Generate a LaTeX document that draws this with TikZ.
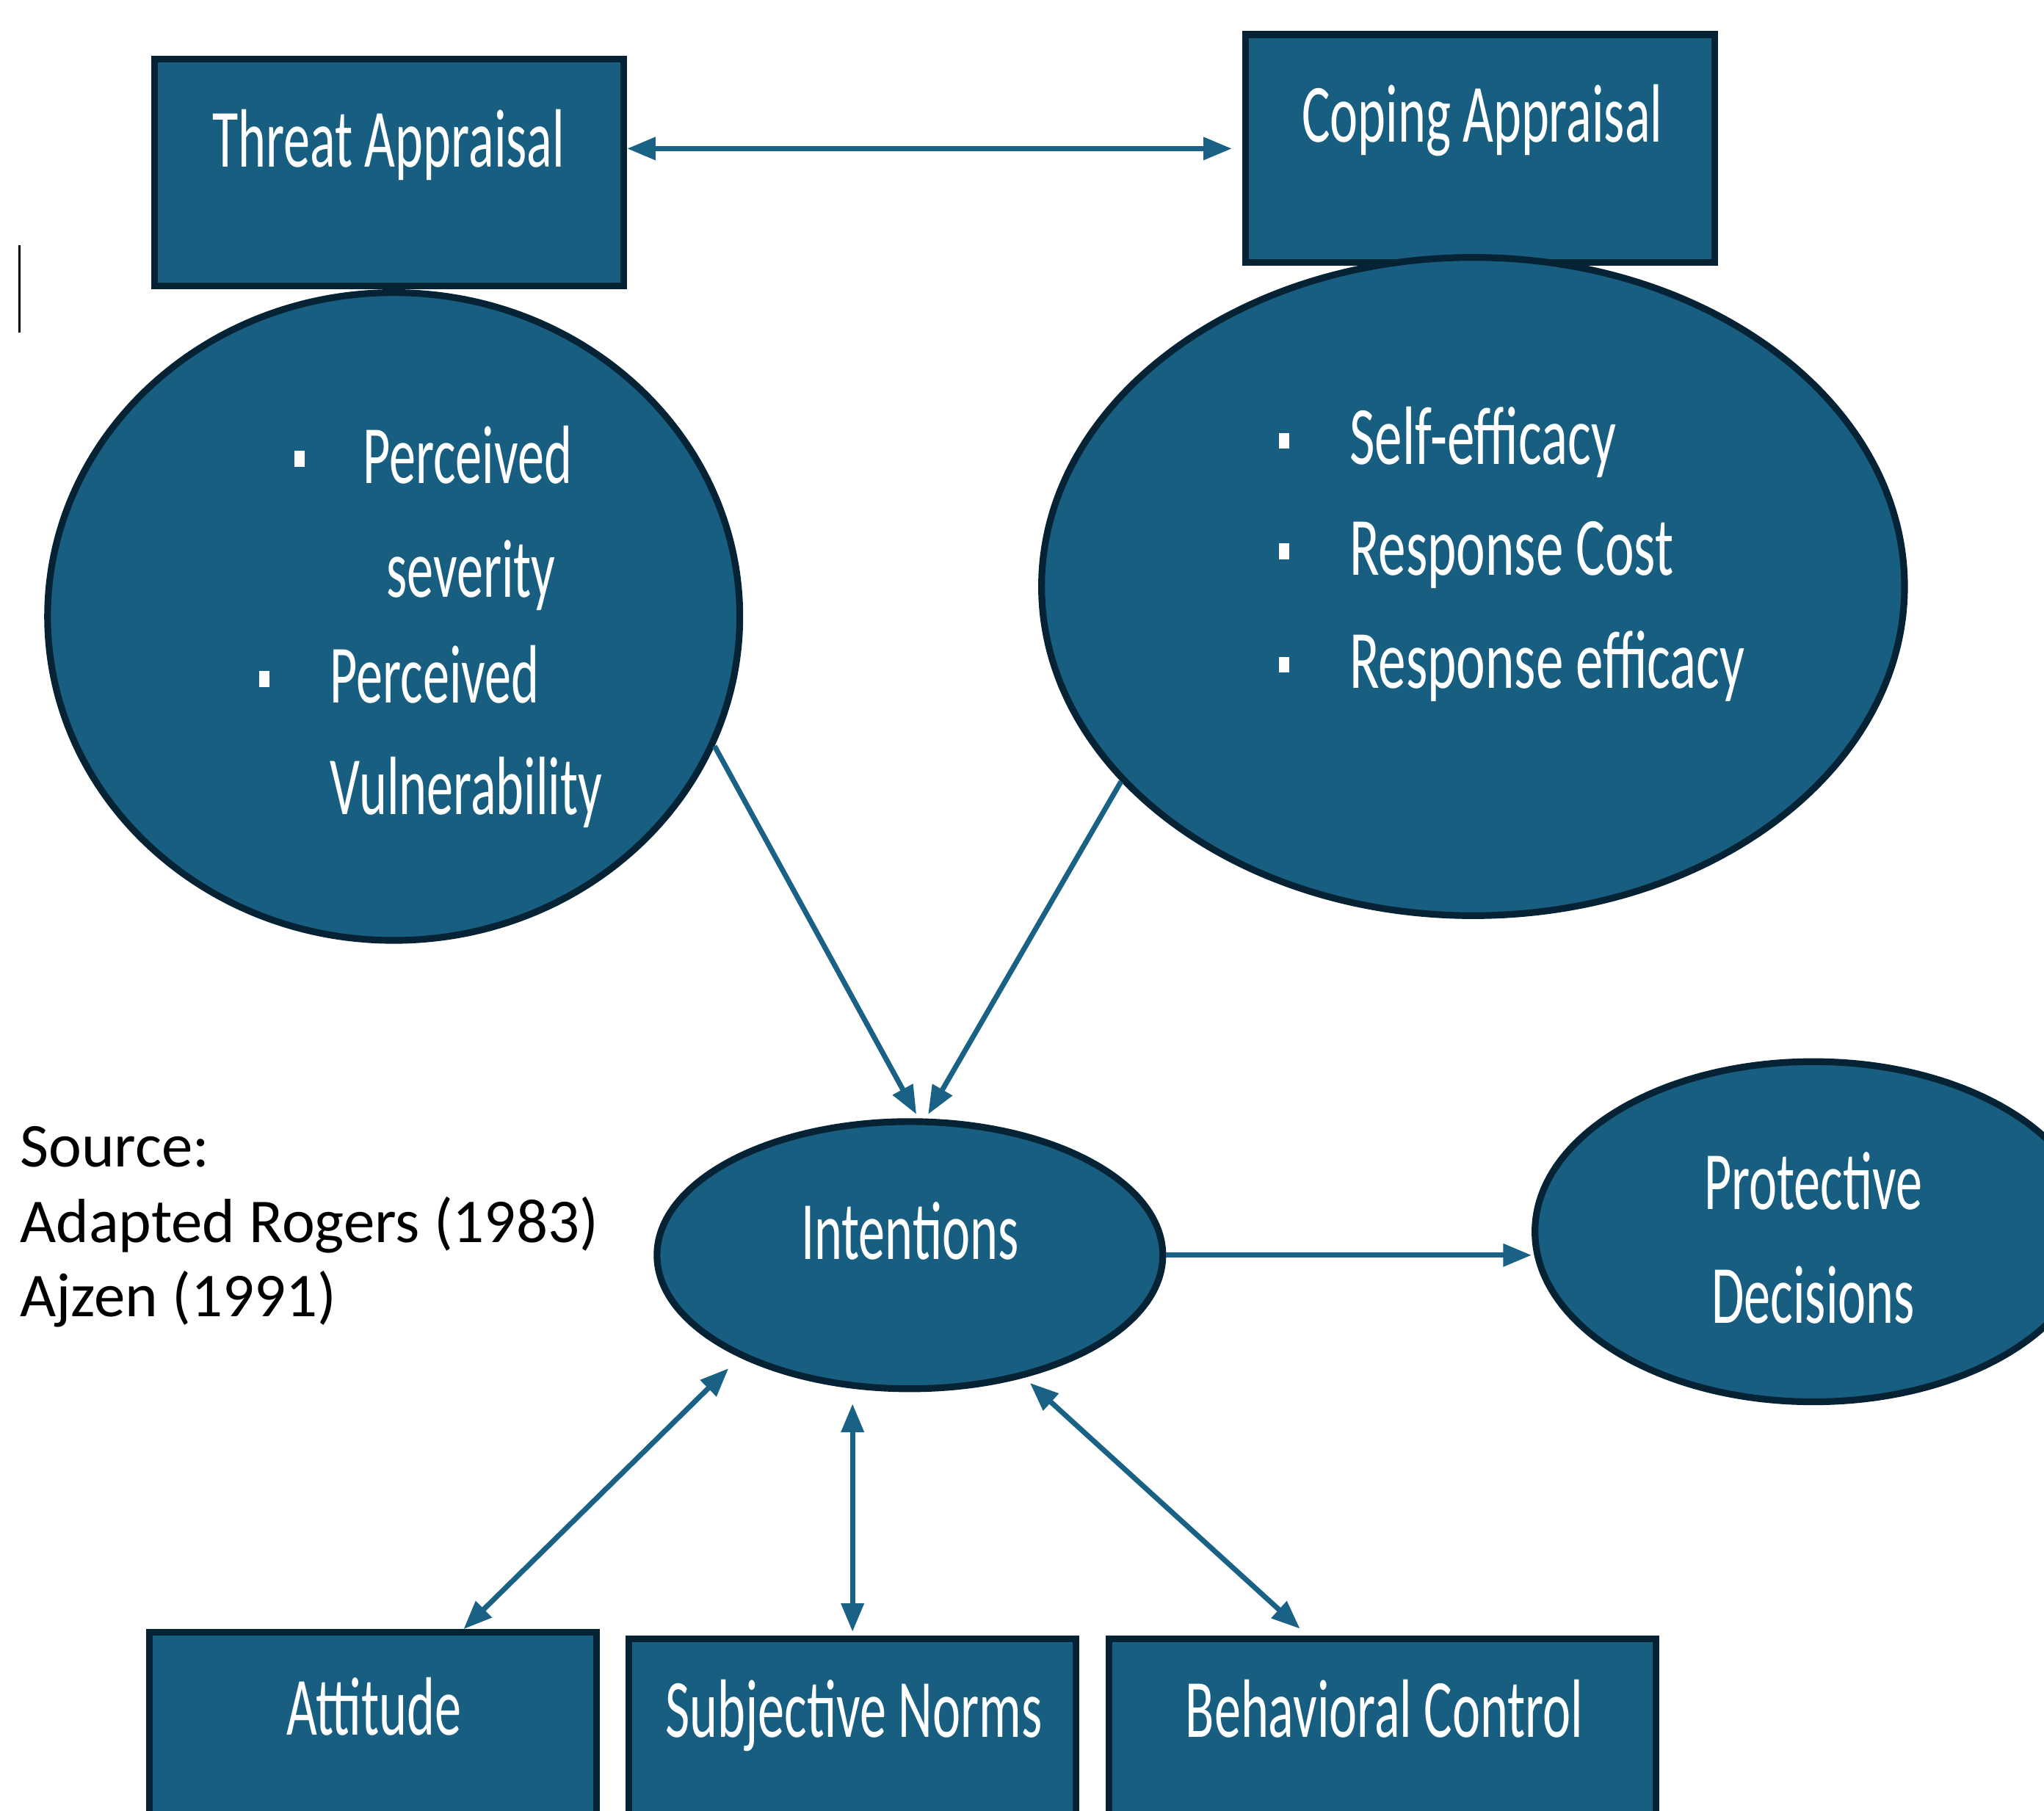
\documentclass[tikz,border=0pt]{standalone}
\usepackage{fontspec}
\setmainfont{Carlito}
\newfontfamily\narrowfont[FakeStretch=0.64]{Carlito}
\newfontfamily\listfont[FakeStretch=0.665]{Carlito}
\usetikzlibrary{shapes.geometric,arrows.meta,calc}
\definecolor{boxfill}{HTML}{175E80}
\definecolor{boxline}{HTML}{052334}
\definecolor{arrowc}{HTML}{1A6285}
\newlength\U
\setlength\U{0.0177cm}
\begin{document}
\begin{tikzpicture}[x=0.0177cm, y=-0.0177cm,
  box/.style={rectangle, fill=boxfill, draw=boxline, line width=2.6pt, inner sep=0pt,
    path picture={
      \fill[boxline] (path picture bounding box.north west) rectangle ([yshift=-1.2pt]path picture bounding box.north east);
      \fill[boxline] (path picture bounding box.south west) rectangle ([yshift=1.2pt]path picture bounding box.south east);}},
  oval/.style={ellipse, fill=boxfill, draw=boxline, line width=2.6pt, inner sep=0pt},
  lbl/.style={text=white, font=\narrowfont\fontsize{32pt}{38pt}\selectfont, inner sep=0pt},
  lst/.style={lbl, font=\listfont\fontsize{32pt}{38pt}\selectfont},
  bullet/.style={fill=white, inner sep=0pt, minimum width=4pt, minimum height=6pt},
  src/.style={anchor=base west, inner sep=0pt, font=\fontsize{24.1pt}{29pt}\selectfont},
  link/.style={draw=arrowc, line width=2pt, -{Triangle[length=11pt,width=8.5pt]}},
  both/.style={draw=arrowc, line width=2pt, {Triangle[length=11pt,width=8.5pt]}-{Triangle[length=11pt,width=8.5pt]}}]

\fill[white] (0,0) rectangle (1568,1389);
\useasboundingbox (0,0) rectangle (1568,1389);
\clip (0,0) rectangle (1568,1389);

% stray text cursor at the left margin
\draw[line width=1pt, black] (15,188) -- (15,255);

% appraisal boxes
\node[box, minimum width=360\U, minimum height=174\U] (ta) at (298.5,132.5) {};
\node[box, minimum width=360\U, minimum height=175\U] (ca) at (1135.5,114) {};
\node[lbl, anchor=base] (tat) at (298,128) {Threat Appraisal};
\node[lbl, anchor=base] (cat) at (1137,109) {Coping Appraisal};

% appraisal ellipses
\node[oval, minimum width=531\U, minimum height=497\U] (lell) at (302,473) {};
\node[oval, minimum width=662\U, minimum height=505\U] (rell) at (1130,450) {};

\node[bullet] (b1) at (230,352) {};
\node[lbl, anchor=base west] (l1) at (278,371) {Perceived};
\node[lbl, anchor=base west] (l2) at (296,458) {severity};
\node[bullet] (b2) at (203,521) {};
\node[lbl, anchor=base west] (l3) at (253,539) {Perceived};
\node[lbl, anchor=base west] (l4) at (253,625) {Vulnerability};

\node[bullet] (b3) at (985,338) {};
\node[lst, anchor=base west] (r1) at (1035,356) {Self-efficacy};
\node[bullet] (b4) at (985,423) {};
\node[lst, anchor=base west] (r2) at (1035,441) {Response Cost};
\node[bullet] (b5) at (985,510) {};
\node[lst, anchor=base west] (r3) at (1035,528) {Response efficacy};

% intentions and decisions
\node[oval, minimum width=388\U, minimum height=205\U] (int) at (698,963) {};
\node[lbl, anchor=base] (intt) at (698,966) {Intentions};
\node[oval, minimum width=427\U, minimum height=261\U] (prot) at (1391,945) {};
\node[lbl, anchor=base] (pt1) at (1391,928) {Protective};
\node[lbl, anchor=base] (pt2) at (1391,1015) {Decisions};

% planned behaviour boxes
\node[box, minimum width=343\U, minimum height=175\U] (att) at (286,1340) {};
\node[box, minimum width=343\U, minimum height=175\U] (sn) at (654,1345) {};
\node[box, minimum width=420\U, minimum height=175\U] (bc) at (1060.5,1345) {};
\node[lbl, anchor=base] (attt) at (287,1331) {Attitude};
\node[lbl, anchor=base] (snt) at (655,1333) {Subjective Norms};
\node[lbl, anchor=base] (bct) at (1062,1333) {Behavioral Control};

% source note
\node[src] (s1) at (15,895) {Source:};
\node[src] (s2) at (15,953) {Adapted Rogers (1983)};
\node[src] (s3) at (15,1010) {Ajzen (1991)};

% connectors
\draw[both, shorten >=4pt] (ta.east |- ca.west) -- (ca.west);
\draw[link] (lell.-22) -- ($(int.north)+(5,-3)$);
\draw[link] (rell.209) -- ($(int.north)+(14,-3)$);
\draw[link] (int.east) -- (int.east -| prot.west);
\draw[both, shorten >=6pt] ($(att.north west)!0.7!(att.north east)$) -- (int.211);
\draw[both, shorten >=4.5pt, shorten <=1.5pt] (sn.north) -- (sn.north |- int.south);
\draw[both, shorten >=3pt, shorten <=4pt] ($(bc.north west)!0.365!(bc.north east)$) -- (int.-47);
\end{tikzpicture}
\end{document}
